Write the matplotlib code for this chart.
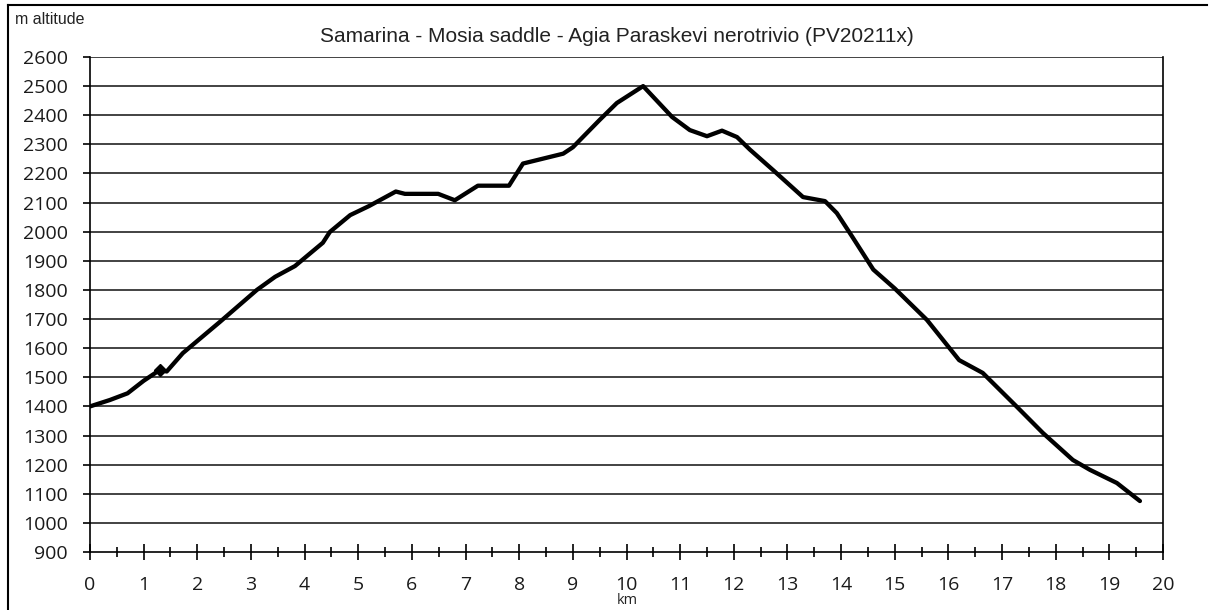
import matplotlib
matplotlib.use("Agg")
import matplotlib.pyplot as plt
from matplotlib.lines import Line2D
from matplotlib.ticker import MultipleLocator

km = [0, 0.37, 0.7, 1.0, 1.3, 1.43, 1.73, 2.42, 3.11, 3.45, 3.82, 4.34, 4.47,
      4.85, 5.2, 5.7, 5.87, 6.49, 6.8, 7.23, 7.81, 8.07, 8.82, 9.0, 9.5, 9.82,
      10.31, 10.59, 10.85, 11.18, 11.5, 11.78, 12.06, 12.3, 12.73, 13.29, 13.7,
      13.92, 14.2, 14.6, 15.0, 15.6, 16.2, 16.64, 17.28, 17.76, 18.32, 18.64,
      19.14, 19.57]
alt = [1400, 1422, 1445, 1488, 1525, 1520, 1583, 1690, 1800, 1845, 1882, 1962,
       1999, 2057, 2088, 2138, 2130, 2130, 2108, 2158, 2158, 2234, 2268, 2290,
       2384, 2442, 2500, 2445, 2394, 2349, 2328, 2347, 2325, 2282, 2212, 2119,
       2105, 2064, 1985, 1870, 1805, 1697, 1559, 1515, 1398, 1309, 1216, 1182,
       1137, 1075]
marker_km = [1.3]
marker_alt = [1525]

x_ticks = list(range(0, 21))
y_ticks = list(range(900, 2601, 100))
title = "Samarina - Mosia saddle - Agia Paraskevi nerotrivio (PV20211x)"

fig = plt.figure(figsize=(12.12, 6.10), dpi=100)
ax = fig.add_axes([90/1212, 58/610, (1163-90)/1212, (552-57)/610])

ax.set_xlim(0, 20)
ax.set_ylim(900, 2600)
for y in y_ticks[1:]:
    ax.axhline(y, color="#222222", lw=1.2, zorder=1)

ax.plot(km, alt, color="black", lw=3.1, solid_joinstyle="round",
        solid_capstyle="round", zorder=3)
ax.plot(marker_km, marker_alt, marker="D", color="black", ms=6, ls="none", zorder=4)

ax.spines["top"].set_visible(False)
for s in ["left", "right", "bottom"]:
    ax.spines[s].set_color("black")
    ax.spines[s].set_linewidth(1.2)

ax.set_xticks(x_ticks)
ax.xaxis.set_minor_locator(MultipleLocator(0.5))
ax.set_yticks(y_ticks)
ax.tick_params(axis="x", which="major", direction="inout", length=11, width=1.2,
               pad=12, labelsize=14)
ax.tick_params(axis="x", which="minor", direction="inout", length=7, width=1.2)
ax.tick_params(axis="y", which="major", direction="out", length=5, width=1.2,
               pad=11, labelsize=14)
for lab in ax.get_xticklabels() + ax.get_yticklabels():
    lab.set_family("Open Sans")
    lab.set_color("#1a1a1a")

fig.text(617/1212, 1 - 36/610, title, ha="center", va="center",
         fontsize=15, family="Liberation Sans", color="#222222")
fig.text(15/1212, 1 - 19/610, "m altitude", ha="left", va="center",
         fontsize=11.5, family="Liberation Sans", color="#222222")
fig.text(627/1212, 1 - 600/610, "km", ha="center", va="center",
         fontsize=10.5, family="Open Sans", color="#222222")

fig.add_artist(Line2D([8/1212, 8/1212], [0, 1 - 5/610], transform=fig.transFigure,
                      color="black", lw=1.5))
fig.add_artist(Line2D([8/1212, 1207/1212], [1 - 5/610, 1 - 5/610],
                      transform=fig.transFigure, color="black", lw=1.5))

fig.savefig("out.png", dpi=100)
